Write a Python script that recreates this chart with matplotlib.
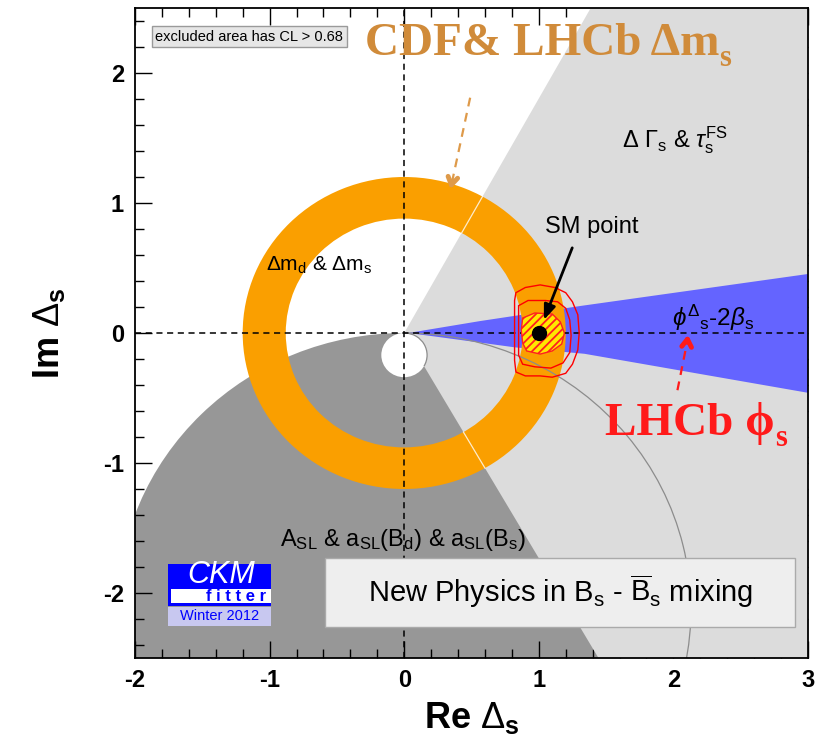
import numpy as np
import matplotlib
matplotlib.use('Agg')
import matplotlib.pyplot as plt
from matplotlib.patches import Polygon, Circle, Wedge, Rectangle, Arc
from matplotlib.ticker import MultipleLocator

plt.rcParams['font.family'] = ['Liberation Sans', 'DejaVu Sans']
plt.rcParams['mathtext.fontset'] = 'custom'
plt.rcParams['mathtext.rm'] = 'Liberation Sans'
plt.rcParams['mathtext.it'] = 'Liberation Sans:italic'
plt.rcParams['mathtext.bf'] = 'Liberation Sans:bold'
plt.rcParams['axes.unicode_minus'] = False
plt.rcParams['hatch.linewidth'] = 1.3

# constraints in the complex Delta_s plane
dms_r_in, dms_r_out = 0.88, 1.20                  # Delta m_d & Delta m_s annulus
asl_center, asl_radius = (0.0, -2.13), 2.13       # A_SL & a_SL excluded disc
hole_center, hole_radius = (0.0, -0.17), 0.17     # allowed hole inside A_SL disc
dgam_theta = (-60.0, 61.0)                        # Delta Gamma_s excluded wedge (deg)

# phi_s^Delta - 2 beta_s band edges (Re, Im)
phis_upper_re = [0.03, 0.565, 1.31, 3.0]
phis_upper_im = [0.0, 0.092, 0.208, 0.454]
phis_lower_re = [3.0, 1.34, 0.82, 0.25, 0.03]
phis_lower_im = [-0.46, -0.16, -0.11, -0.03, 0.0]

# combined fit: 68% region (hatched) and two outer contours
blob_re = [0.88, 0.97, 1.10, 1.16, 1.19, 1.17, 1.10, 1.01, 0.91, 0.88, 0.87]
blob_im = [0.115, 0.154, 0.146, 0.085, 0.0, -0.085, -0.138, -0.162, -0.138, -0.077, 0.023]
cl1_re = [0.85, 0.92, 1.05, 1.14, 1.20, 1.23, 1.24, 1.23, 1.18, 1.09, 0.97, 0.88, 0.85, 0.85, 0.85]
cl1_im = [0.21, 0.25, 0.25, 0.24, 0.19, 0.10, -0.02, -0.15, -0.23, -0.27, -0.26, -0.24, -0.17, -0.02, 0.12]
cl2_re = [0.83, 0.90, 1.01, 1.12, 1.20, 1.25, 1.29, 1.30, 1.29, 1.25, 1.20, 1.10, 1.01, 0.90, 0.83, 0.82, 0.82, 0.82, 0.82]
cl2_im = [0.31, 0.35, 0.37, 0.35, 0.31, 0.24, 0.14, 0.0, -0.13, -0.24, -0.31, -0.34, -0.33, -0.33, -0.30, -0.21, -0.05, 0.14, 0.25]
sm_point = (1.0, 0.0)

dark_gray = '#979797'
light_gray = '#DCDCDC'
orange = '#FA9F00'
blue = '#6464FF'
cdf_color = '#D08B3A'

fig = plt.figure(figsize=(8.23, 7.46), dpi=100)
ax = fig.add_axes([135 / 823, 1 - 658 / 746, 673 / 823, 650 / 746])
ax.set_xlim(-2, 3)
ax.set_ylim(-2.5, 2.5)

# excluded regions
ax.add_patch(Circle(asl_center, asl_radius, facecolor=dark_gray, edgecolor='none', zorder=1))
ax.add_patch(Wedge((0, 0), 10, dgam_theta[0], dgam_theta[1], facecolor=light_gray,
                   edgecolor='none', zorder=2))
ax.add_patch(Circle(hole_center, hole_radius, facecolor='white', edgecolor='none', zorder=3))

band = list(zip(phis_upper_re, phis_upper_im)) + list(zip(phis_lower_re, phis_lower_im))
ax.add_patch(Polygon(band, closed=True, facecolor=blue, edgecolor='none', zorder=4))

ax.add_patch(Wedge((0, 0), dms_r_out, 0, 360, width=dms_r_out - dms_r_in,
                   facecolor=orange, edgecolor='none', zorder=5))
# faint seams where the Delta Gamma_s wedge edges cross the ring
for th in dgam_theta:
    c, s = np.cos(np.radians(th)), np.sin(np.radians(th))
    ax.plot([dms_r_in * c, dms_r_out * c], [dms_r_in * s, dms_r_out * s],
            color='white', lw=0.9, alpha=0.8, zorder=5.5)

# thin outlines of the A_SL circles
ax.add_patch(Arc(asl_center, 2 * asl_radius, 2 * asl_radius, theta1=-12, theta2=90,
                 color='#8C8C8C', lw=0.9, zorder=6))
ax.add_patch(Arc(hole_center, 2 * hole_radius, 2 * hole_radius, theta1=-30, theta2=88,
                 color='#8C8C8C', lw=0.9, zorder=6))

# axes through the origin
ax.axvline(0, color='black', ls=(0, (4, 3)), lw=1.1, zorder=7)
ax.axhline(0, color='black', ls=(0, (4, 3)), lw=1.1, zorder=7)

# fit result around the SM point
ax.add_patch(Polygon(list(zip(blob_re, blob_im)), closed=True, facecolor='#FFE800',
                     edgecolor='#FF2020', hatch='////', lw=1.0, zorder=8))
ax.add_patch(Polygon(list(zip(cl1_re, cl1_im)), closed=True, fill=False, edgecolor='red',
                     lw=1.0, zorder=8))
ax.add_patch(Polygon(list(zip(cl2_re, cl2_im)), closed=True, fill=False, edgecolor='red',
                     lw=1.0, zorder=8))
ax.plot(*sm_point, 'o', color='black', ms=10, zorder=9)
ax.annotate('', xy=(1.03, 0.08), xytext=(1.256, 0.675),
            arrowprops=dict(arrowstyle='-|>,head_length=0.9,head_width=0.35', color='black',
                            lw=2), zorder=9)

# labels
ax.text(1.048, 0.815, 'SM point', fontsize=17, va='center', zorder=10)
ax.text(-1.03, 0.52, r'$\Delta\mathrm{m_d}$ & $\Delta\mathrm{m_s}$', fontsize=15,
        va='center', zorder=10)
ax.text(1.62, 1.485, r'$\Delta\ \Gamma_\mathrm{s}$ & $\tau_\mathrm{s}^\mathrm{FS}$', fontsize=17,
        va='center', zorder=10)
ax.text(1.99, 0.115, r'$\phi^{\Delta}{}_\mathrm{s}$-2$\beta_\mathrm{s}$', fontsize=17.5,
        va='center', zorder=10)
ax.text(-0.92, -1.59, r'$\mathrm{A_{SL}}$ & $\mathrm{a_{SL}(B_d)}$ & $\mathrm{a_{SL}(B_s)}$',
        fontsize=17, va='center', zorder=10)
ax.text(-1.85, 2.28, 'excluded area has CL > 0.68', fontsize=10.5, va='center', zorder=10,
        bbox=dict(boxstyle='square,pad=0.25', facecolor='#E6E6E6', edgecolor='#9A9A9A', lw=1))

t1 = ax.text(-0.29, 2.138, 'CDF& LHCb \u0394m', family='Liberation Serif', fontweight='bold',
             fontsize=34, color=cdf_color, va='baseline', zorder=10)
ax.annotate('s', xy=(1, 0), xycoords=t1, xytext=(0, -1), textcoords='offset points',
            family='Liberation Serif', fontweight='bold', fontsize=22, color=cdf_color,
            va='baseline', zorder=10)
ax.plot([0.49, 0.355], [1.81, 1.16], color='#DE9A4A', lw=1.6, ls=(0, (4, 3)), zorder=10)
ax.annotate('', xy=(0.34, 1.085), xytext=(0.36, 1.19),
            arrowprops=dict(arrowstyle='->,head_length=0.55,head_width=0.35', color='#DE9A4A',
                            lw=3.5), zorder=10)

t2 = ax.text(1.493, -0.785, 'LHCb \u03d5', family='Liberation Serif', fontweight='bold',
             fontsize=34, color='#FF1A1A', va='baseline', zorder=10)
ax.annotate('s', xy=(1, 0), xycoords=t2, xytext=(0, -1), textcoords='offset points',
            family='Liberation Serif', fontweight='bold', fontsize=22, color='#FF1A1A',
            va='baseline', zorder=10)
ax.plot([2.03, 2.10], [-0.44, -0.08], color='#FF1A1A', lw=1.6, ls=(0, (4, 3)), zorder=10)
ax.annotate('', xy=(2.11, 0.008), xytext=(2.10, -0.09),
            arrowprops=dict(arrowstyle='->,head_length=0.55,head_width=0.35', color='#FF1A1A',
                            lw=3.5), zorder=10)

# title box
ax.add_patch(Rectangle((-0.587, -2.26), 3.49, 0.53, facecolor='#EEEEEE', edgecolor='#AAAAAA',
                       lw=1, zorder=10))
ax.text(1.16, -1.99, r'New Physics in $\mathrm{B_s}$ - $\mathrm{\overline{B}_s}$ mixing',
        fontsize=21, ha='center', va='center', zorder=11)

# CKMfitter logo
ax.add_patch(Rectangle((-1.753, -2.10), 0.765, 0.323, facecolor='#0000FF', edgecolor='none',
                       zorder=10))
ax.add_patch(Rectangle((-1.73, -2.077), 0.742, 0.108, facecolor='white', edgecolor='none',
                       zorder=11))
ax.add_patch(Rectangle((-1.753, -2.254), 0.765, 0.146, facecolor='#C8C8F0', edgecolor='none',
                       zorder=10))
ax.text(-1.36, -1.865, 'CKM', fontsize=22, style='italic', color='white', ha='center',
        va='center', zorder=12)
ax.text(-1.25, -2.025, 'f i t t e r', fontsize=12, fontweight='bold', color='#0000FF',
        ha='center', va='center', zorder=12)
ax.text(-1.37, -2.18, 'Winter 2012', fontsize=10.5, color='#0000FF', ha='center',
        va='center', zorder=12)

# axes styling
ax.set_xticks([-2, -1, 0, 1, 2, 3])
ax.set_yticks([-2, -1, 0, 1, 2])
ax.xaxis.set_minor_locator(MultipleLocator(0.2))
ax.yaxis.set_minor_locator(MultipleLocator(0.2))
ax.tick_params(which='both', direction='in', top=True, right=True, width=1.0)
ax.tick_params(which='major', length=12, labelsize=17, pad=8)
ax.tick_params(which='minor', length=6.5)
for lab in ax.get_xticklabels() + ax.get_yticklabels():
    lab.set_fontweight('bold')
for sp in ax.spines.values():
    sp.set_linewidth(1.3)
    sp.set_zorder(20)
ax.set_xlabel(r'$\mathbf{Re}\ \Delta_\mathbf{s}$', fontsize=26, labelpad=6)
ax.set_ylabel(r'$\mathbf{Im}\ \Delta_\mathbf{s}$', fontsize=26, labelpad=26)

fig.savefig('out.png', dpi=100)
